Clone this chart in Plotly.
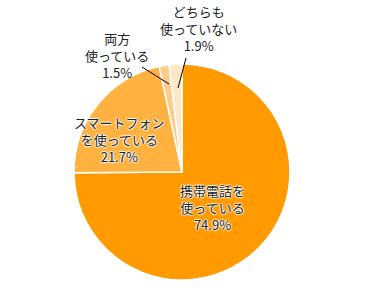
import plotly.graph_objects as go

categories = ["携帯電話を<br>使っている", "スマートフォン<br>を使っている", "両方<br>使っている", "どちらも<br>使っていない"]
values = [74.9, 21.7, 1.5, 1.9]
colors = ["#FF9A00", "#FFB23F", "#FFCD87", "#FFE6C5"]

fig = go.Figure(go.Pie(
    labels=categories, values=values, sort=False, direction="clockwise", rotation=0,
    marker=dict(colors=colors, line=dict(color="white", width=1.5)),
    textinfo="none", hoverinfo="label+percent", showlegend=False,
    domain=dict(x=[74/366, 290/366], y=[1-280/291, 1-64/291]),
))

W, H = 366, 291
label_pos = [(212, 207, True), (120, 139, True), (117, 55, False), (198, 29, False)]
shadow = "1px 0 1px #fff, -1px 0 1px #fff, 0 1px 1px #fff, 0 -1px 1px #fff"
for cat, v, (x, y, inside) in zip(categories, values, label_pos):
    fig.add_annotation(
        x=x/W, y=1-y/H, xref="paper", yref="paper", showarrow=False,
        xanchor="center", yanchor="middle",
        text=f"{cat}<br>{v}%", align="center",
        font=dict(family="Noto Sans CJK JP", size=13, color="#222222",
                  shadow=shadow if inside else "none"),
    )

leaders = [((142, 67), (169, 84)), ((186, 58), (178, 88))]
for (x0, y0), (x1, y1) in leaders:
    fig.add_shape(type="line", xref="paper", yref="paper",
                  x0=x0/W, y0=1-y0/H, x1=x1/W, y1=1-y1/H,
                  line=dict(color="black", width=1))

fig.update_layout(width=W, height=H, margin=dict(l=0, r=0, t=0, b=0),
                  paper_bgcolor="white", plot_bgcolor="white")
fig.write_html("out.html")
